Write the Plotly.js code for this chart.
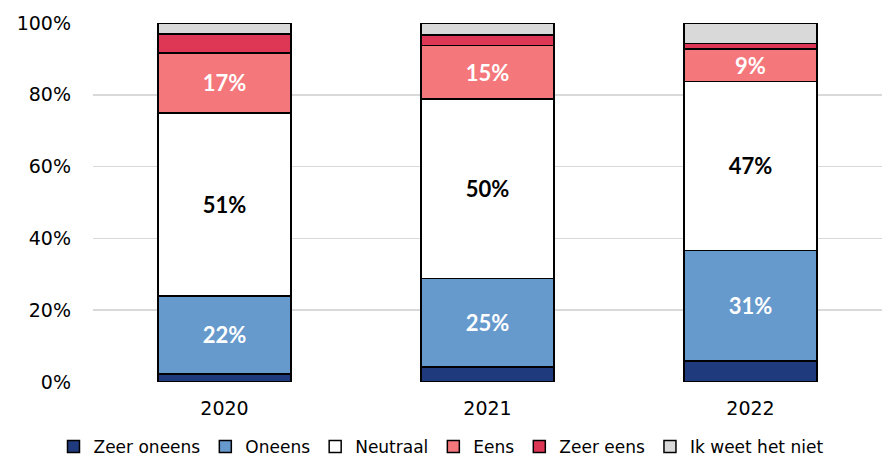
<!DOCTYPE html>
<html><head><meta charset="utf-8">
<script src="https://cdn.plot.ly/plotly-3.0.1.min.js"></script>
<style>html,body{margin:0;padding:0;background:#fff}#c{width:882px;height:459px}</style>
</head><body><div id="c"></div>
<script>
const years = ['2020', '2021', '2022'];
const zeerOneens = [2.2, 4.2, 5.9];
const oneens = [21.8, 24.7, 30.8];
const neutraal = [51.0, 49.9, 47.0];
const eens = [16.6, 15.0, 9.1];
const zeerEens = [5.3, 2.9, 1.5];
const ikWeetHetNiet = [3.1, 3.3, 5.7];
const seriesNames = ['Zeer oneens', 'Oneens', 'Neutraal', 'Eens', 'Zeer eens', 'Ik weet het niet'];
const yTicks = [0, 20, 40, 60, 80, 100];
const yTickLabels = ['0%', '20%', '40%', '60%', '80%', '100%'];

const FONT = '"DejaVu Sans", sans-serif';
const LFONT = 'Lato, "Open Sans", sans-serif';
const colors = ['#1F3A7D', '#6699CC', '#FFFFFF', '#F4777B', '#DE3755', '#D9D9D9'];
const labelColors = [null, '#FFFFFF', '#000000', '#FFFFFF', null, null];
const data = [zeerOneens, oneens, neutraal, eens, zeerEens, ikWeetHetNiet];

const traces = data.map((vals, i) => {
  const t = {
    type: 'bar', name: seriesNames[i], x: years, y: vals,
    marker: {color: colors[i], line: {color: '#000000', width: 1.5}},
    hoverinfo: 'skip'
  };
  if (labelColors[i]) {
    t.text = vals.map(v => Math.round(v) + '%');
    t.textposition = 'inside';
    t.insidetextanchor = 'middle';
    t.textangle = 0;
    t.textfont = {family: LFONT, size: 22, color: labelColors[i], weight: 'bold'};
    t.constraintext = 'none';
  } else {
    t.textposition = 'none';
  }
  return t;
});

const layout = {
  width: 882, height: 459,
  margin: {l: 93, r: 0, t: 23, b: 77},
  barmode: 'stack', bargap: 0.495,
  paper_bgcolor: '#fff', plot_bgcolor: '#fff',
  font: {family: FONT, size: 19, color: '#000'},
  xaxis: {type: 'category', showgrid: false, zeroline: false, showline: false,
          tickfont: {family: FONT, size: 19, color: '#000'}, ticks: '', ticklabelstandoff: 13},
  yaxis: {range: [0, 100], tickvals: yTicks, ticktext: yTickLabels, showgrid: true,
          gridcolor: '#D9D9D9', gridwidth: 1.5, zeroline: false, showline: false,
          tickfont: {family: FONT, size: 19, color: '#000'}, ticks: '', ticklabelstandoff: 21},
  showlegend: true,
  legend: {orientation: 'h', xref: 'container', yref: 'container', x: 0.5, xanchor: 'center',
           y: 0.026, yanchor: 'middle', traceorder: 'normal',
           font: {family: FONT, size: 17, color: '#000'}, itemwidth: 30, tracegroupgap: 0}
};

Plotly.newPlot('c', traces, layout, {displayModeBar: false, staticPlot: true});
</script></body></html>
